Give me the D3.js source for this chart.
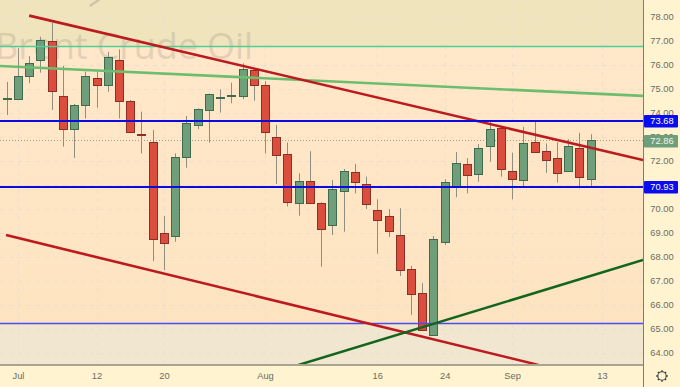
<!DOCTYPE html>
<html><head><meta charset="utf-8">
<script src="https://cdn.jsdelivr.net/npm/d3@7/dist/d3.min.js"></script>
<style>html,body{margin:0;padding:0;background:#FFF3D0;overflow:hidden}svg{display:block}</style>
</head><body><svg id="c" width="680" height="387"></svg>
<script>
const opens  =[74.58,74.60,75.55,76.22,77.01,74.72,73.33,74.33,75.48,75.19,76.21,74.49,73.12,72.80,68.98,68.88,72.16,73.49,74.12,74.65,74.72,74.73,75.80,75.19,73.02,72.29,70.26,71.16,70.24,69.32,70.76,71.53,71.03,69.97,69.69,68.90,67.51,66.48,64.75,68.63,70.96,71.86,71.46,72.62,73.37,71.60,71.22,72.78,72.42,72.13,71.59,72.53,71.26];
const highs  =[75.30,76.71,76.38,77.19,77.77,75.97,74.38,75.73,75.73,76.56,76.66,74.55,74.06,73.30,69.71,72.32,73.88,74.20,74.82,74.99,75.27,76.08,75.88,75.33,73.51,72.77,71.49,72.41,70.28,71.21,71.67,71.88,71.35,70.40,69.99,70.03,67.62,66.90,68.87,71.24,72.38,72.12,72.71,73.64,73.39,72.35,73.43,73.64,72.74,72.78,72.91,73.18,73.12];
const lows   =[73.92,74.55,75.25,75.69,74.13,72.60,72.13,73.78,74.23,74.89,73.78,73.18,72.32,67.83,67.45,68.63,71.72,73.33,72.77,74.02,74.41,74.58,74.52,72.32,71.04,70.10,69.72,70.22,67.59,68.91,69.05,70.65,70.00,68.13,68.83,67.20,65.58,64.94,64.73,68.50,70.49,70.65,71.13,71.97,71.35,70.40,70.96,72.37,71.51,71.10,71.57,70.86,70.96];
const closes =[74.62,75.55,76.08,77.05,74.92,73.33,74.33,75.55,75.16,76.33,74.49,73.23,73.08,68.73,68.59,72.18,73.59,74.16,74.79,74.67,74.76,75.83,75.16,73.20,72.27,70.28,71.16,70.24,69.18,70.82,71.57,71.13,70.20,69.53,69.07,67.44,66.46,64.96,68.75,71.13,71.93,71.43,72.53,73.33,71.66,71.25,72.77,72.39,72.06,71.49,72.63,71.32,72.86];
const priceTicks=[78,77,76,75,74,73,72,71,70,69,68,67,66,65,64];
const timeIdx=[1,8,14,23,33,39,45,53];
const timeLabels=["Jul","12","20","Aug","16","24","Sep","13"];
const levelThick=[73.68,70.93];
const levelThin=[65.2];
const levelMint=[76.78];
const lastPrice=72.86;
const zoneTop=76.78, zoneBottom=65.2;
const redTop=[[2,78.07],[56.66,72.04]];
const redLow=[[-0.06,68.91],[47.35,63.49]];
const greenLine=[[-0.6,75.97],[56.66,74.72]];
const darkGreen=[[25.98,63.49],[56.66,67.87]];
const greyStub=[[7.4,78.47],[8.3,78.76]];
const title="Brent Crude Oil";

const W=680,H=387,R=643,B=365;
const font="'Liberation Sans',Arial,sans-serif";
const x=d3.scaleLinear().domain([0,53]).range([6.7,601.9]);
const y=d3.scaleLinear().domain([78,64]).range([17.3,352.7]);
const svg=d3.select("#c");
const defs=svg.append("defs");
defs.append("clipPath").attr("id","plot").append("rect").attr("width",R).attr("height",B);
const grad=defs.append("linearGradient").attr("id","bg").attr("x1",0).attr("y1",0).attr("x2",0).attr("y2",1);
grad.append("stop").attr("offset",0).attr("stop-color","#FFE8CB");
grad.append("stop").attr("offset",1).attr("stop-color","#FDE3BF");

svg.append("rect").attr("width",W).attr("height",H).attr("fill","#FFF3D0");
const plot=svg.append("g").attr("clip-path","url(#plot)");
plot.append("rect").attr("width",R).attr("height",B).attr("fill","url(#bg)");
plot.append("rect").attr("width",R).attr("height",Math.floor(y(zoneTop))).attr("fill","#EFE4BC");
plot.append("rect").attr("y",Math.floor(y(zoneBottom))).attr("width",R).attr("height",B-Math.floor(y(zoneBottom))).attr("fill","#F1E6CF");

const grid=plot.append("g").attr("stroke","#EDDFCC").attr("stroke-width",1).attr("stroke-dasharray","4 5");
grid.selectAll(".h").data(priceTicks).join("line").attr("x1",0).attr("x2",R).attr("y1",d=>Math.round(y(d))+.5).attr("y2",d=>Math.round(y(d))+.5);
grid.selectAll(".v").data(timeIdx).join("line").attr("y1",0).attr("y2",B).attr("x1",d=>Math.round(x(d))+.5).attr("x2",d=>Math.round(x(d))+.5);

plot.append("text").text(title).attr("x",-5).attr("y",59).attr("font-family","'Open Sans',sans-serif").attr("font-size",36).attr("fill","#8a7f70").attr("opacity",.22).attr("textLength",258);

plot.append("line").attr("x1",0).attr("x2",R).attr("y1",Math.round(y(lastPrice))+.5).attr("y2",Math.round(y(lastPrice))+.5).attr("stroke","#A39C80").attr("stroke-dasharray","1 2");

const candles=plot.append("g");
const bw=8;
opens.forEach((o,i)=>{
  const c=closes[i],up=c>=o,cx=Math.round(x(i))+.5;
  candles.append("line").attr("x1",cx).attr("x2",cx).attr("y1",y(highs[i])).attr("y2",y(lows[i])).attr("stroke","#8F8C80").attr("stroke-width",1);
  const t=Math.round(y(Math.max(o,c)))+.5,b=Math.round(y(Math.min(o,c)))+.5;
  candles.append("rect").attr("x",cx-bw/2).attr("y",t).attr("width",bw).attr("height",Math.max(b-t,.5))
    .attr("fill",up?"#6F9E7B":"#DB4D3C").attr("stroke",up?"#3E6B4F":"#8E2F26").attr("stroke-width",1);
});

const lineGen=d3.line().x(d=>x(d[0])).y(d=>y(d[1]));
const trends=[[greyStub,"#CFC5A6",2.5],[greenLine,"#6CBD6E",2.6],[redTop,"#BC1A1E",2.6],[redLow,"#BC1A1E",2.6],[darkGreen,"#12651E",2.6]];
const drawLevels=(vals,col,w,snap)=>plot.selectAll(null).data(vals).join("line").attr("x1",0).attr("x2",R).attr("y1",d=>snap(y(d))).attr("y2",d=>snap(y(d))).attr("stroke",col).attr("stroke-width",w);
const half=v=>Math.floor(v)+.5;
drawLevels(levelMint,"#4FCF98",1.3,half);
drawLevels(levelThin,"#4C4CF4",1.5,half);
plot.selectAll(null).data(trends).join("path").attr("d",d=>lineGen(d[0])).attr("fill","none").attr("stroke",d=>d[1]).attr("stroke-width",d=>d[2]);
drawLevels(levelThick,"#0B0BE0",2,Math.round);

svg.append("rect").attr("x",0).attr("y",B-1).attr("width",R).attr("height",2).attr("fill","#A8A392");
svg.append("rect").attr("x",R).attr("y",0).attr("width",1).attr("height",H).attr("fill","#807C70");

const fs=9.3;
const yAxis=d3.axisRight(y).tickValues(priceTicks).tickFormat(d3.format(".2f")).tickSize(0);
const gy=svg.append("g").attr("transform",`translate(${R},0)`).call(yAxis);
gy.select(".domain").remove();
gy.selectAll("text").attr("x",19).attr("dy",".25em").attr("text-anchor","middle").attr("font-family",font).attr("font-size",fs).attr("fill","#6B6B66");
const xAxis=d3.axisBottom(x).tickValues(timeIdx).tickFormat((d,i)=>timeLabels[i]).tickSize(0).tickPadding(7);
const gx=svg.append("g").attr("transform",`translate(0,${B})`).call(xAxis);
gx.select(".domain").remove();
gx.selectAll("text").attr("font-family",font).attr("font-size",fs).attr("fill","#6B6B66");

const tag=(v,fill,txt)=>{
  const cy=Math.round(y(v)+.3);
  svg.append("rect").attr("x",R+1).attr("y",cy-6).attr("width",34).attr("height",12.5).attr("rx",1).attr("fill",fill);
  svg.append("text").attr("x",662).attr("y",cy).attr("dy",".36em").attr("text-anchor","middle").text(d3.format(".2f")(v)).attr("font-family",font).attr("font-size",fs).attr("fill",txt);
};
levelThick.forEach(v=>tag(v,"#0B0BF0","#FFFFFF"));
tag(lastPrice,"#6F9E7B","#F4F4EC");

const gear=svg.append("g").attr("transform","translate(662,376)").attr("fill","none").attr("stroke","#3C3C3C");
gear.append("circle").attr("r",4.2).attr("stroke-width",1.1);
gear.selectAll(null).data(d3.range(8)).join("line").attr("y1",-4.2).attr("y2",-5.8).attr("stroke-width",1.4).attr("transform",d=>`rotate(${d*45})`);
</script></body></html>
